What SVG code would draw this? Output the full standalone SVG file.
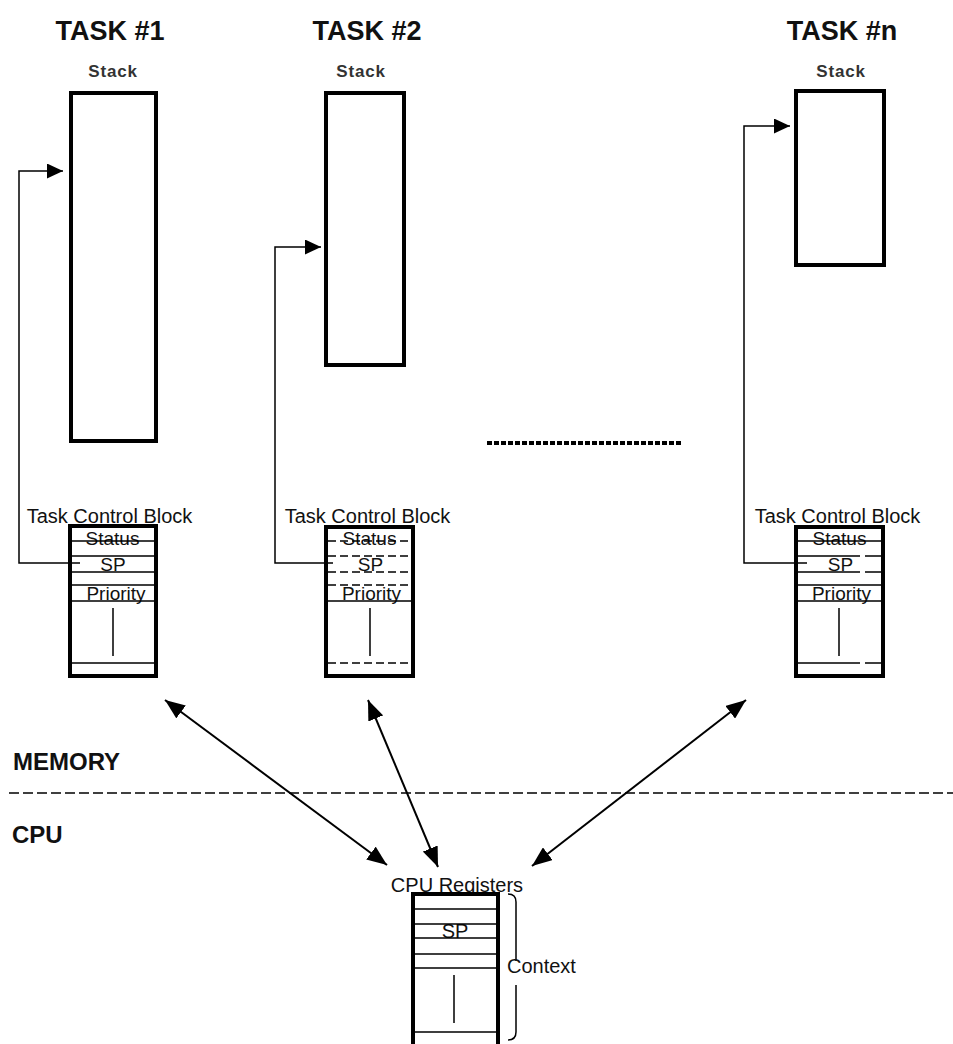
<svg xmlns="http://www.w3.org/2000/svg" width="953" height="1044" viewBox="0 0 953 1044">
<style>
  text { font-family: "Liberation Sans", Arial, sans-serif; fill: #111; }
  .title { font-size: 27px; font-weight: bold; text-anchor: middle; }
  .stk { font-size: 17px; font-weight: bold; text-anchor: middle; fill: #333; letter-spacing: 0.8px; }
  .lbl { font-size: 20px; text-anchor: middle; }
  .fld { font-size: 19px; text-anchor: middle; }
  .big { font-size: 24px; font-weight: bold; }
  .box { fill: #fff; stroke: #000; stroke-width: 4; }
  .ln { stroke: #000; stroke-width: 1.5; fill: none; }
  .dl { stroke: #000; stroke-width: 1.5; fill: none; stroke-dasharray: 8 4; }
  .ptr { stroke: #000; stroke-width: 1.5; fill: none; marker-end: url(#ph); }
  .dbl { stroke: #000; stroke-width: 2; fill: none; marker-start: url(#ah); marker-end: url(#ah); }
</style>
<defs>
  <marker id="ph" markerWidth="16" markerHeight="15" refX="16" refY="7.5" orient="auto" markerUnits="userSpaceOnUse">
    <path d="M0,0 L16,7.5 L0,15 z" fill="#000"/>
  </marker>
  <marker id="ah" markerWidth="20" markerHeight="16" refX="20" refY="8" orient="auto-start-reverse" markerUnits="userSpaceOnUse">
    <path d="M0,0 L20,8 L0,16 z" fill="#000"/>
  </marker>
</defs>
<rect width="953" height="1044" fill="#fff"/>

<!-- Task 1 -->
<g id="task1">
  <text class="title" x="110" y="40">TASK #1</text>
  <text class="stk" x="113" y="77">Stack</text>
  <rect class="box" x="71" y="93" width="85" height="348"/>
</g>
<g id="tcb1">
  <text class="lbl" x="109.5" y="523">Task Control Block</text>
  <rect class="box" x="70" y="526" width="86" height="150"/>
  <text class="fld" x="112.5" y="545">Status</text>
  <text class="fld" x="113" y="571">SP</text>
  <text class="fld" x="116" y="600">Priority</text>
  <path class="ln" d="M72,541H154M72,556H154M72,572H154M72,585H154M72,601H154M72,663H154M113,608V656"/>
</g>

<!-- Task 2 -->
<g id="task2">
  <text class="title" x="367" y="40">TASK #2</text>
  <text class="stk" x="361" y="77">Stack</text>
  <rect class="box" x="326" y="93" width="78" height="272"/>
</g>
<g id="tcb2">
  <text class="lbl" x="367.5" y="523">Task Control Block</text>
  <rect class="box" x="326" y="527" width="87" height="149"/>
  <text class="fld" x="369.5" y="545">Status</text>
  <text class="fld" x="370.5" y="571">SP</text>
  <text class="fld" x="371.5" y="600">Priority</text>
  <path class="dl" d="M328,541H411M328,556H411M328,572H411M328,585H411M328,663H411"/>
  <path class="ln" d="M328,601H411M370,608V656"/>
</g>

<!-- Task n -->
<g id="taskn">
  <text class="title" x="842" y="40">TASK #n</text>
  <text class="stk" x="841" y="77">Stack</text>
  <rect class="box" x="796" y="91" width="88" height="174"/>
</g>
<g id="tcbn">
  <text class="lbl" x="837.5" y="523">Task Control Block</text>
  <rect class="box" x="796" y="527" width="87" height="149"/>
  <text class="fld" x="839.5" y="545">Status</text>
  <text class="fld" x="840.5" y="571">SP</text>
  <text class="fld" x="841.5" y="600">Priority</text>
  <path class="ln" d="M798,541H881M798,556H860M865,556H881M798,572H860M865,572H881M798,585H881M798,601H881M798,663H860M865,663H881M839,608V656"/>
</g>

<!-- dotted ellipsis -->
<g id="ellipsis">
  <line x1="487" y1="443" x2="683" y2="443" stroke="#000" stroke-width="4" stroke-dasharray="5 2"/>
</g>

<!-- Memory / CPU separation -->
<g id="separator">
  <text class="big" x="13" y="770">MEMORY</text>
  <line x1="9" y1="793" x2="953" y2="793" stroke="#000" stroke-width="1.5" stroke-dasharray="10 4"/>
  <text class="big" x="12" y="843">CPU</text>
</g>

<!-- CPU registers -->
<g id="cpu">
  <text class="lbl" x="457" y="892">CPU Registers</text>
  <path d="M413,1050V894H498V1050" fill="#fff" stroke="#000" stroke-width="4"/>
  <text class="fld" x="455" y="938" style="font-size:20px">SP</text>
  <path class="ln" d="M415,909H496M415,924H496M415,938H496M415,954H496M415,968H496M415,1032H496M454,975V1023"/>
  <path class="ln" d="M508,894Q516,894 516,902V961M516,985V1032Q516,1040 508,1040"/>
  <text x="507" y="973" style="font-size:20px">Context</text>
</g>

<!-- connectors -->
<g id="connectors">
  <polyline class="ptr" points="80,563 19,563 19,171 63,171"/>
  <polyline class="ptr" points="333,563 275,563 275,247 321,247"/>
  <polyline class="ptr" points="807,563 744,563 744,126 790,126"/>
  <line class="dbl" x1="165" y1="700" x2="387" y2="865"/>
  <line class="dbl" x1="368" y1="700" x2="438" y2="867"/>
  <line class="dbl" x1="746" y1="700" x2="532" y2="866"/>
</g>
</svg>
